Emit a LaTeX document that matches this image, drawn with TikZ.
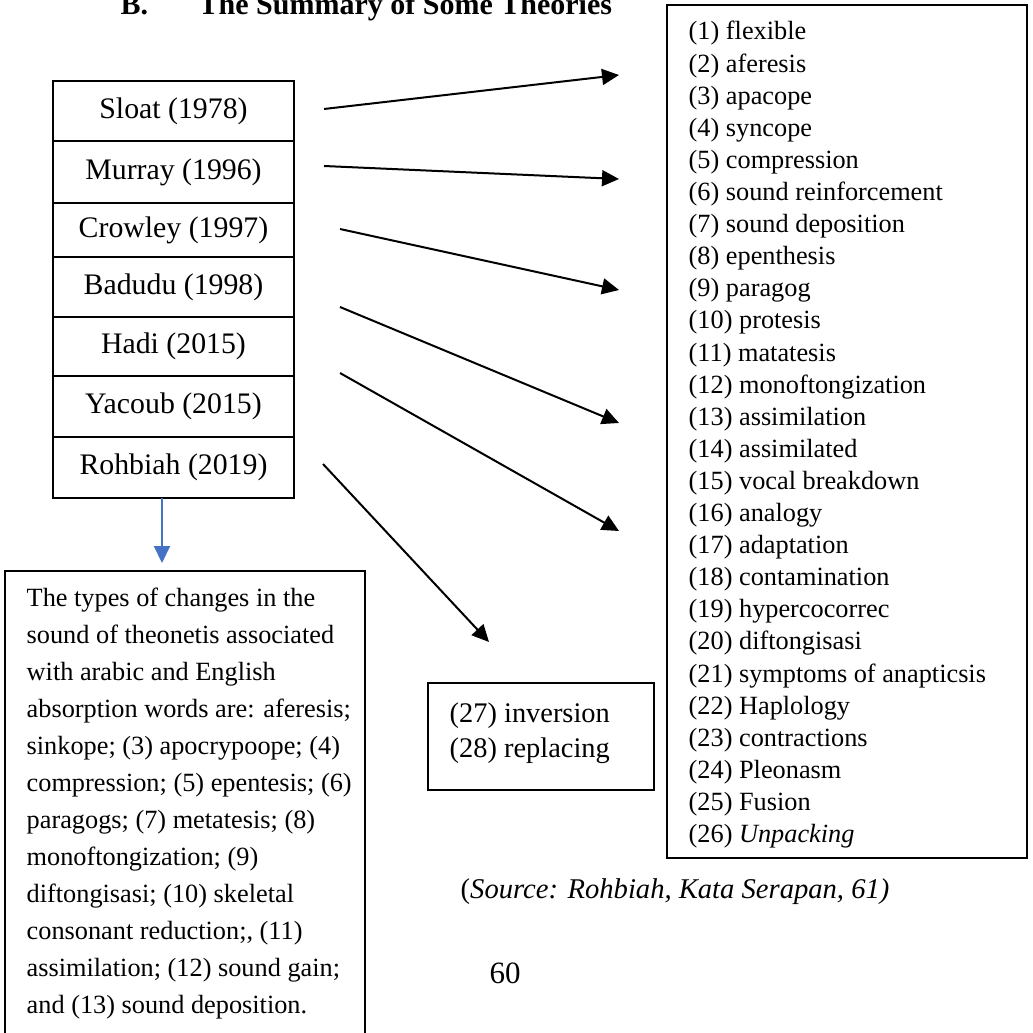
\documentclass[tikz,border=0pt]{standalone}
\usepackage{fontspec}
\setmainfont{Liberation Serif}
\usetikzlibrary{positioning,arrows.meta}
\definecolor{linkblue}{HTML}{4472C4}

\begin{document}
\begin{tikzpicture}[
      x=1pt, y=-1pt, line width=1.4pt,
      theory/.style={draw, rectangle, minimum width=241pt, outer sep=0pt, inner sep=0pt, text centered, font=\fontsize{29.8}{34}\selectfont}, % Autores
      listbox/.style={draw, rectangle, outer sep=0pt, inner sep=0pt, anchor=north west},
      entry/.style={anchor=base west, inner sep=0pt, font=\fontsize{26.3}{32}\selectfont},
      link/.style={line width=2pt, -{Triangle[length=17pt, width=16pt]}}
    ]
    \useasboundingbox (0,0) rectangle (1033,1033);
    % Title
    \node[anchor=base west, inner sep=0pt, font=\bfseries\fontsize{30}{36}\selectfont] (letter) at (120,15) {B.};
    \node[anchor=base west, inner sep=0pt, font=\bfseries\fontsize{30}{36}\selectfont] (title) at (198,15) {The Summary of Some Theories};

    % Stack of theories
    \node[theory, minimum height=60pt, anchor=north west] (sloat) at (53,81) {Sloat (1978)};
    \node[theory, minimum height=62pt, below=0pt of sloat] (murray) {Murray (1996)};
    \node[theory, minimum height=54pt, below=0pt of murray] (crowley) {Crowley (1997)};
    \node[theory, minimum height=60pt, below=0pt of crowley] (badudu) {Badudu (1998)};
    \node[theory, minimum height=59pt, below=0pt of badudu] (hadi) {Hadi (2015)};
    \node[theory, minimum height=61pt, below=0pt of hadi] (yacoub) {Yacoub (2015)};
    \node[theory, minimum height=61pt, below=0pt of yacoub] (rohbiah) {Rohbiah (2019)};

    % Types list
    \node[listbox, minimum width=360pt, minimum height=853pt] (types) at (667,5) {};
    \foreach \w [count=\n] in {flexible, aferesis, apacope, syncope, compression, sound reinforcement,
        sound deposition, epenthesis, paragog, protesis, matatesis, monoftongization, assimilation,
        assimilated, vocal breakdown, analogy, adaptation, contamination, hypercocorrec, diftongisasi,
        symptoms of anapticsis, Haplology, contractions, Pleonasm, Fusion, {\textit{Unpacking}}}
      \node[entry] (type\n) at (688, 7.9+32.1*\n) {(\n) \w};

    % Rohbiah box
    \node[listbox, minimum width=360pt, minimum height=480pt] (rules) at (5,571) {};
    \foreach \txt [count=\n] in {{The types of changes in the}, {sound of theonetis associated},
        {with arabic and English}, {absorption words are: aferesis;}, {sinkope; (3) apocrypoope; (4)},
        {compression; (5) epentesis; (6)}, {paragogs; (7) metatesis; (8)}, {monoftongization; (9)},
        {diftongisasi; (10) skeletal}, {consonant reduction;, (11)}, {assimilation; (12) sound gain;},
        {and (13) sound deposition.}}
      \node[entry] (rule\n) at (26, 569+37*\n) {\txt};

    % Extra box
    \node[listbox, minimum width=226pt, minimum height=107pt] (extra) at (428,683) {};
    \node[entry, font=\fontsize{28.4}{35}\selectfont] (extra1) at (449,722) {(27) inversion};
    \node[entry, font=\fontsize{28.4}{35}\selectfont] (extra2) at (449,757) {(28) replacing};

    % Source and page
    \node[anchor=base west, inner sep=0pt, font=\fontsize{28.6}{34}\selectfont] (source) at (460,898) {(\textit{Source: Rohbiah, Kata Serapan, 61)}};
    \node[anchor=base west, inner sep=0pt, font=\fontsize{31}{36}\selectfont] (page) at (489,983) {60};

    % Arrows
    \coordinate (tip1) at (619,75);
    \coordinate (tip2) at (619,179);
    \coordinate (tip3) at (619,290);
    \coordinate (tip4) at (619,423);
    \coordinate (tip5) at (619,531);
    \coordinate (tip6) at (489,642);
    \draw[link] ([xshift=30pt, yshift=2pt]sloat.east) -- (tip1);
    \draw[link] ([xshift=30pt, yshift=6pt]murray.east) -- (tip2);
    \draw[link] ([xshift=46pt, yshift=1pt]crowley.east) -- (tip3);
    \draw[link] ([xshift=46pt, yshift=-20pt]badudu.east) -- (tip4);
    \draw[link] ([xshift=46pt, yshift=-26.5pt]hadi.east) -- (tip5);
    \draw[link] ([xshift=29pt, yshift=3.5pt]rohbiah.east) -- (tip6);
    \draw[link, linkblue] ([xshift=-11.5pt]rohbiah.south) -- ([xshift=-23pt, yshift=8pt]rules.north);
\end{tikzpicture}
\end{document}
